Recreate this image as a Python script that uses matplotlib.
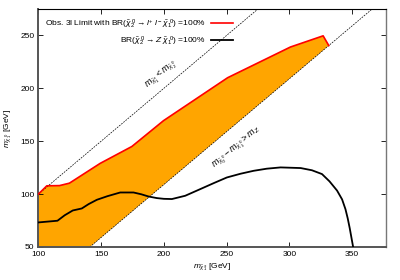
import matplotlib
matplotlib.use("Agg")
import matplotlib.pyplot as plt
import numpy as np

plt.rcParams['font.family'] = ['Liberation Sans', 'DejaVu Sans']
plt.rcParams['mathtext.fontset'] = 'custom'
plt.rcParams['mathtext.rm'] = 'Liberation Sans'
plt.rcParams['mathtext.it'] = 'Liberation Sans:italic'
plt.rcParams['mathtext.bf'] = 'Liberation Sans:bold'

# 3l observed limit (upper boundary of excluded region)
lim3l_x = [100, 106.7, 116.8, 124.7, 149.2, 174.5, 199.7, 250.8, 300.8, 326.9, 331.4]
lim3l_y = [100, 107.8, 108.0, 110.3, 129.0, 145.0, 169.4, 210.0, 239.0, 249.6, 240.4]

# Z limit curve
limZ_x = [100, 115.2, 121, 127.4, 134.6, 140, 146.6, 155, 165.2, 175.8, 182, 187.8, 194.4, 200,
          206.4, 217, 229, 240, 250.2, 261, 271.5, 282, 293, 309, 318, 326, 332, 338, 342,
          344.7, 346.5, 348.1, 350.8]
limZ_y = [73.2, 74.8, 80, 84.5, 86.4, 90.5, 94.6, 98, 101.5, 101.5, 99.8, 97.7, 96.2, 95.5,
          95.3, 98.4, 104.7, 110.5, 115.7, 119.2, 122, 124, 125.2, 124.6, 122.5, 118.9, 112,
          103.3, 95, 85.7, 77, 67.7, 50]

mZ = 91.0
xmin, xmax, ymin, ymax = 100, 377, 50, 275

fig = plt.figure(figsize=(4.0, 2.8), dpi=100)
ax = fig.add_axes([0.096, 0.118, 0.869, 0.850])

# filled region: upper red boundary, down to kinematic line, back along it
poly_x = list(lim3l_x) + [mZ + ymin, xmin]
poly_y = list(lim3l_y) + [ymin, ymin]
ax.fill(poly_x, poly_y, color='#FFA500', lw=0, zorder=1)
ax.plot(lim3l_x, lim3l_y, color='red', lw=1.2, zorder=3)

# kinematic lines
dx = np.array([xmin, xmax])
ax.plot(dx, dx, color='black', lw=0.5, ls=(0, (2.5, 1.5)), zorder=2)
ax.plot(dx, dx - mZ, color='black', lw=0.5, ls=(0, (2.5, 1.5)), zorder=2)

ax.plot(limZ_x, limZ_y, color='black', lw=1.3, zorder=4)

# legend proxies
ax.plot([], [], color='red', lw=1.2,
        label=r'Obs. 3l Limit with BR($\tilde{\chi}_2^{\ 0}\rightarrow l^{+}\ l^{-}\ \tilde{\chi}_1^{\ 0}$) =100%')
ax.plot([], [], color='black', lw=1.3,
        label=r'BR($\tilde{\chi}_2^{\ 0}\rightarrow Z\ \tilde{\chi}_1^{\ 0}$) =100%')
leg = ax.legend(loc='upper left', bbox_to_anchor=(0.005, 0.985), frameon=False,
                markerfirst=False, fontsize=6, handlelength=2.6, handletextpad=0.6,
                labelspacing=0.45, borderaxespad=0.2)

ax.text(198, 213, r'$m_{\tilde{\chi}_1^{\pm}} < m_{\tilde{\chi}_2^{\ 0}}$', rotation=40,
        ha='center', va='center', fontsize=6.5)
ax.text(258, 144, r'$m_{\tilde{\chi}_2^{\ 0}} - m_{\tilde{\chi}_1^{\ 0}} > m_Z$', rotation=40,
        ha='center', va='center', fontsize=6.5)

ax.set_xlim(xmin, xmax)
ax.set_ylim(ymin, ymax)
ax.set_xticks([100, 150, 200, 250, 300, 350])
ax.set_yticks([50, 100, 150, 200, 250])
ax.tick_params(direction='in', top=True, right=True, labelsize=6, length=3.5, width=0.6, pad=3)

ax.set_xlabel(r'$m_{\tilde{\chi}_1^{\pm}}$ [GeV]', fontsize=6, labelpad=2)
ax.set_ylabel(r'$m_{\tilde{\chi}_1^{\ 0}}$ [GeV]', fontsize=6, labelpad=4)

for s in ['left', 'bottom']:
    ax.spines[s].set_color('#555555')
    ax.spines[s].set_linewidth(1.4)
ax.spines['right'].set_color('#777777')
ax.spines['right'].set_linewidth(1.0)
ax.spines['top'].set_color('black')
ax.spines['top'].set_linewidth(0.8)

fig.savefig('out.png', dpi=100)
